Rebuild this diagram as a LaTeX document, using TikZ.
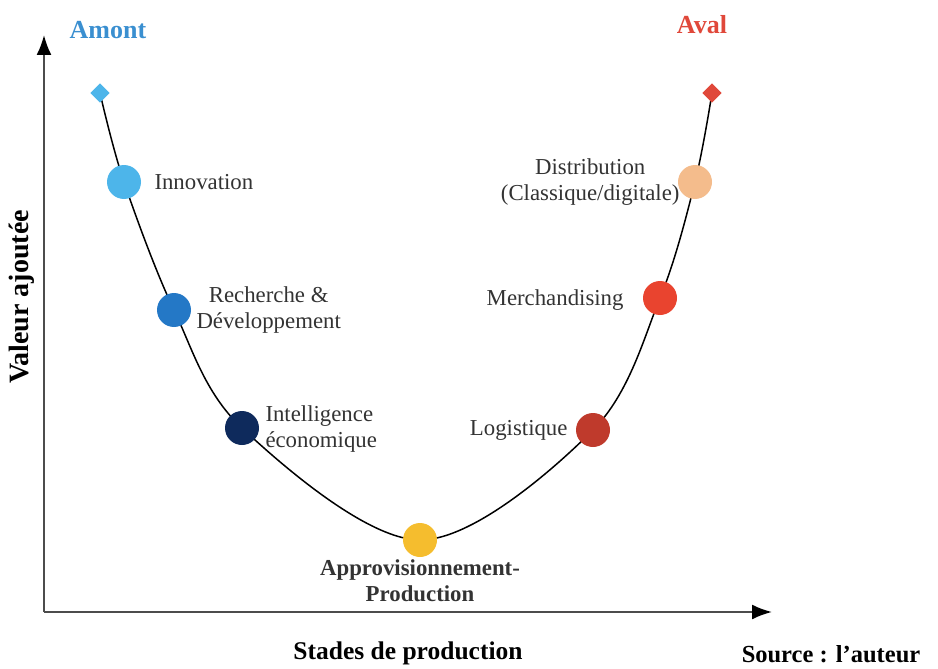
\documentclass[tikz,border=0pt]{standalone}
\usepackage{fontspec}
\setmainfont{Liberation Serif}
\usetikzlibrary{positioning}
\usetikzlibrary{arrows.meta}
\usetikzlibrary{shapes.geometric}

\definecolor{amontblue}{HTML}{3A8FD0}
\definecolor{avalred}{HTML}{E0483A}
\definecolor{innoblue}{HTML}{4DB5EA}
\definecolor{rdblue}{HTML}{2478C6}
\definecolor{ienavy}{HTML}{0E2A5C}
\definecolor{approyellow}{HTML}{F5BD2E}
\definecolor{logired}{HTML}{BF3A2C}
\definecolor{merchred}{HTML}{E9442F}
\definecolor{distpeach}{HTML}{F4BC8C}
\definecolor{txtgray}{HTML}{333333}

\begin{document}
\begin{tikzpicture}[x=1pt, y=-1pt, line width=1.5pt,
    stage/.style={circle, minimum size=34pt, inner sep=0pt},
    tip/.style={diamond, minimum width=20pt, minimum height=20pt, inner sep=0pt},
    lbl/.style={font=\fontsize{22.8}{26}\selectfont, text=txtgray, align=center, inner sep=2pt},
    axe/.style={draw=black!70, line width=2pt, -{Latex[length=20pt,width=15pt,color=black]}},
    node distance=10pt]
    \useasboundingbox (0,0) rectangle (938,669);

    % axes
    \coordinate (origin) at (44,612);
    \coordinate (ytip) at (44,35);
    \coordinate (xtip) at (772,612);
    \draw[axe] (origin) -- (ytip);
    \draw[axe] (origin) -- (xtip);

    % curve points
    \coordinate (ldia) at (100,93);
    \coordinate (rdia) at (712,93);
    \coordinate (inno) at (124,182);
    \coordinate (rd) at (174,310);
    \coordinate (ie) at (242,428);
    \coordinate (appro) at (420,540);
    \coordinate (logi) at (593,430);
    \coordinate (merch) at (660,298);
    \coordinate (dist) at (695,182);

    \draw[black] plot[smooth, tension=0.55] coordinates {(ldia) (inno) (rd) (ie) (appro) (logi) (merch) (dist) (rdia)};
    \node [tip, fill=innoblue] (ldiad) at (ldia) {};
    \node [tip, fill=avalred] (rdiad) at (rdia) {};

    % stages
    \node [stage, fill=innoblue] (innoc) at (inno) {};
    \node [stage, fill=rdblue] (rdc) at (rd) {};
    \node [stage, fill=ienavy] (iec) at (ie) {};
    \node [stage, fill=approyellow] (approc) at (appro) {};
    \node [stage, fill=logired] (logic) at (logi) {};
    \node [stage, fill=merchred] (merchc) at (merch) {};
    \node [stage, fill=distpeach] (distc) at (dist) {};

    % labels
    \node [lbl, right=10pt of innoc] (innol) {Innovation};
    \node [lbl, right=2pt of rdc] (rdl) {Recherche \&\\D\'eveloppement};
    \node [lbl, align=left, right=3pt of iec, yshift=-1pt] (iel) {Intelligence\\\'economique};
    \node [lbl, below=-1pt of approc, font=\fontsize{22.8}{26}\selectfont\bfseries] (approl) {Approvisionnement-\\Production};
    \node [lbl, left=5pt of logic] (logil) {Logistique};
    \node [lbl, left=16pt of merchc, yshift=-2pt] (merchl) {Merchandising};
    \node [lbl, left=-5pt of distc] (distl) {Distribution\\(Classique/digitale)};

    % titles
    \node [font=\fontsize{26}{30}\selectfont\bfseries, text=amontblue] (amont) at (108,30) {Amont};
    \node [font=\fontsize{26}{30}\selectfont\bfseries, text=avalred] (aval) at (702,25) {Aval};
    \node [font=\fontsize{28}{30}\selectfont\bfseries, rotate=90] (yl) at (22,297) {Valeur ajout\'ee};
    \node [font=\fontsize{25.5}{30}\selectfont\bfseries] (xl) at (408,653) {Stades de production};
    \node [font=\fontsize{24.5}{30}\selectfont\bfseries] (src) at (831,654) {Source : l’auteur};
\end{tikzpicture}
\end{document}
